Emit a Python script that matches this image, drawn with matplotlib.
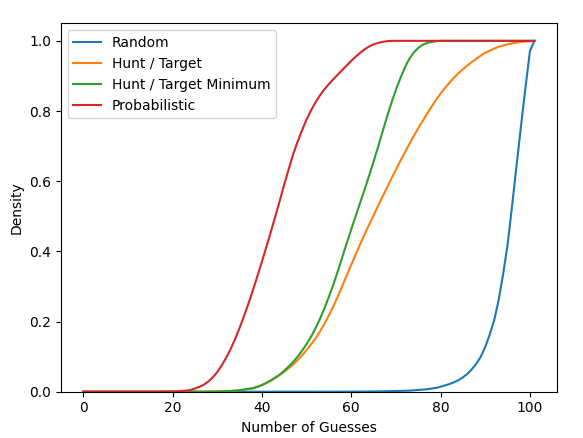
import matplotlib
matplotlib.use("Agg")
import matplotlib.pyplot as plt

guesses = list(range(0, 102))

random_cdf = (
    [0.0] * 50
    + [0.0, 0.0, 0.0, 0.0, 0.0, 0.0001, 0.0001, 0.0001, 0.0002, 0.0002,   # 50-59
       0.0003, 0.0003, 0.0004, 0.0005, 0.0006, 0.0008, 0.0009, 0.0011, 0.0014, 0.0017,  # 60-69
       0.002, 0.0023, 0.0027, 0.003, 0.004, 0.005, 0.006, 0.007, 0.009, 0.011,  # 70-79
       0.014, 0.018, 0.022, 0.027, 0.033, 0.041, 0.051, 0.064, 0.080, 0.100,  # 80-89
       0.128, 0.163, 0.204, 0.262, 0.336, 0.420, 0.530, 0.645, 0.758, 0.868,  # 90-99
       0.971, 1.0]  # 100-101
)

hunt_target = (
    [0.0] * 30
    + [0.0005, 0.001, 0.0015, 0.002, 0.003, 0.004, 0.006, 0.008, 0.010, 0.014,  # 30-39
       0.019, 0.025, 0.032, 0.040, 0.048, 0.057, 0.067, 0.078, 0.090, 0.104,  # 40-49
       0.119, 0.135, 0.152, 0.172, 0.194, 0.218, 0.244, 0.272, 0.302, 0.332,  # 50-59
       0.362, 0.392, 0.421, 0.449, 0.476, 0.503, 0.530, 0.556, 0.582, 0.608,  # 60-69
       0.633, 0.658, 0.682, 0.706, 0.729, 0.751, 0.772, 0.793, 0.813, 0.832,  # 70-79
       0.850, 0.866, 0.881, 0.895, 0.908, 0.919, 0.930, 0.940, 0.949, 0.958,  # 80-89
       0.966, 0.972, 0.978, 0.983, 0.987, 0.990, 0.993, 0.995, 0.997, 0.998,  # 90-99
       0.999, 1.0]  # 100-101
)

hunt_target_min = (
    [0.0] * 30
    + [0.0005, 0.001, 0.0015, 0.002, 0.003, 0.004, 0.006, 0.008, 0.010, 0.014,  # 30-39
       0.019, 0.025, 0.032, 0.040, 0.049, 0.060, 0.072, 0.085, 0.100, 0.117,  # 40-49
       0.136, 0.157, 0.181, 0.208, 0.238, 0.271, 0.306, 0.344, 0.384, 0.424,  # 50-59
       0.463, 0.501, 0.539, 0.577, 0.616, 0.656, 0.698, 0.741, 0.784, 0.824,  # 60-69
       0.861, 0.894, 0.924, 0.949, 0.967, 0.980, 0.989, 0.994, 0.997, 0.999,  # 70-79
       1.0, 1.0, 1.0, 1.0, 1.0, 1.0, 1.0, 1.0, 1.0, 1.0,  # 80-89
       1.0, 1.0, 1.0, 1.0, 1.0, 1.0, 1.0, 1.0, 1.0, 1.0,  # 90-99
       1.0, 1.0]  # 100-101
)

probabilistic = (
    [0.0] * 18
    + [0.0002, 0.0003,  # 18-19
       0.0005, 0.001, 0.002, 0.003, 0.005, 0.009, 0.014, 0.020, 0.029, 0.041,  # 20-29
       0.056, 0.075, 0.097, 0.122, 0.150, 0.182, 0.216, 0.252, 0.290, 0.330,  # 30-39
       0.371, 0.413, 0.456, 0.500, 0.545, 0.591, 0.635, 0.677, 0.713, 0.746,  # 40-49
       0.776, 0.802, 0.825, 0.845, 0.862, 0.877, 0.891, 0.904, 0.917, 0.930,  # 50-59
       0.943, 0.955, 0.966, 0.976, 0.984, 0.990, 0.994, 0.997, 0.999, 1.0,  # 60-69
       1.0, 1.0, 1.0, 1.0, 1.0, 1.0, 1.0, 1.0, 1.0, 1.0,  # 70-79
       1.0, 1.0, 1.0, 1.0, 1.0, 1.0, 1.0, 1.0, 1.0, 1.0,  # 80-89
       1.0, 1.0, 1.0, 1.0, 1.0, 1.0, 1.0, 1.0, 1.0, 1.0,  # 90-99
       1.0, 1.0]  # 100-101
)

series = [
    ("Random", random_cdf, "#1f77b4"),
    ("Hunt / Target", hunt_target, "#ff7f0e"),
    ("Hunt / Target Minimum", hunt_target_min, "#2ca02c"),
    ("Probabilistic", probabilistic, "#d62728"),
]

W, H = 583, 438
fig = plt.figure(figsize=(W / 100, H / 100), dpi=100)
ax = fig.add_axes([60.7 / W, (H - 391.7) / H, (557 - 60.7) / W, (391.7 - 23.3) / H])
for label, vals, color in series:
    ax.plot(guesses, vals, label=label, color=color, linewidth=1.5)

ax.set_ylim(bottom=0)
ax.set_xlabel("Number of Guesses")
ax.set_ylabel("Density")
ax.legend(loc="upper left")

fig.savefig("out.png", dpi=100)
